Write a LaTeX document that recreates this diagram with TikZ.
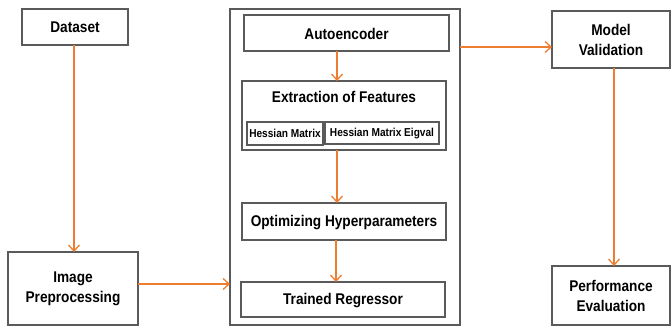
\documentclass[tikz,border=0pt]{standalone}
\usepackage{fontspec}
\setmainfont{Liberation Sans}[FakeStretch=0.88]
\usetikzlibrary{arrows.meta}
\definecolor{flow}{HTML}{ED7D31}
\definecolor{frame}{HTML}{5A5A5A}
\tikzset{
  x=1pt, y=-1pt,
  block/.style={draw=frame, line width=1.4pt, fill=white},
  lbl/.style={font=\fontsize{15.5}{20}\selectfont\bfseries, align=center, text=black},
  small/.style={font=\fontsize{11.5}{13}\selectfont\bfseries, text=black},
  flowline/.style={draw=flow, line width=1.3pt, -{Straight Barb[length=6pt,width=11pt,line width=1.3pt]}}
}
\begin{document}
\begin{tikzpicture}
\useasboundingbox (0,0) rectangle (671,326);

% outer container
\path[block] (230,9) rectangle (460,325);
\coordinate (cont-w) at (230,284);
\coordinate (cont-e) at (460,47);

% left column
\path[block] (22,9) rectangle (128,45);
\node[lbl] (dataset) at (75,27.5) {Dataset};
\coordinate (dataset-s) at (74,45);

\path[block] (8,252) rectangle (138,325);
\node[lbl] (prep) at (73,288.5) {Image\\Preprocessing};
\coordinate (prep-n) at (74,252);
\coordinate (prep-e) at (138,284);

% inner pipeline
\path[block] (244,15) rectangle (449,51);
\node[lbl] (auto) at (346.5,33.5) {Autoencoder};
\coordinate (auto-s) at (337,51);

\path[block] (242,81) rectangle (446,150);
\node[lbl] (extr) at (344,96.5) {Extraction of Features};
\coordinate (extr-n) at (337,81);
\coordinate (extr-s) at (337,150);

\path[block, line width=1.2pt] (247,122) rectangle (323,145);
\node[small] (hm) at (285,133.5) {Hessian Matrix};
\path[block, line width=1.2pt] (325,122) rectangle (439,144);
\node[small] (hme) at (382,133.5) {Hessian Matrix Eigval};

\path[block] (242,203) rectangle (446,240);
\node[lbl] (opt) at (344,222.5) {Optimizing Hyperparameters};
\coordinate (opt-n) at (337,203);
\coordinate (opt-s) at (336,240);

\path[block] (241,282) rectangle (445,317);
\node[lbl] (reg) at (343,300.5) {Trained Regressor};
\coordinate (reg-n) at (336,282);

% right column
\path[block] (552,11) rectangle (670,68);
\node[lbl] (val) at (611,39.5) {Model\\Validation};
\coordinate (val-w) at (552,47);
\coordinate (val-s) at (614,68);

\path[block] (552,266) rectangle (670,325);
\node[lbl] (perf) at (611,295.5) {Performance\\Evaluation};
\coordinate (perf-n) at (614,266);

% connectors
\draw[flowline] (dataset-s) -- (prep-n);
\draw[flowline] (prep-e) -- (cont-w);
\draw[flowline] (auto-s) -- (extr-n);
\draw[flowline] (extr-s) -- (opt-n);
\draw[flowline] (opt-s) -- (reg-n);
\draw[flowline] (cont-e) -- (val-w);
\draw[flowline] (val-s) -- (perf-n);
\end{tikzpicture}
\end{document}
